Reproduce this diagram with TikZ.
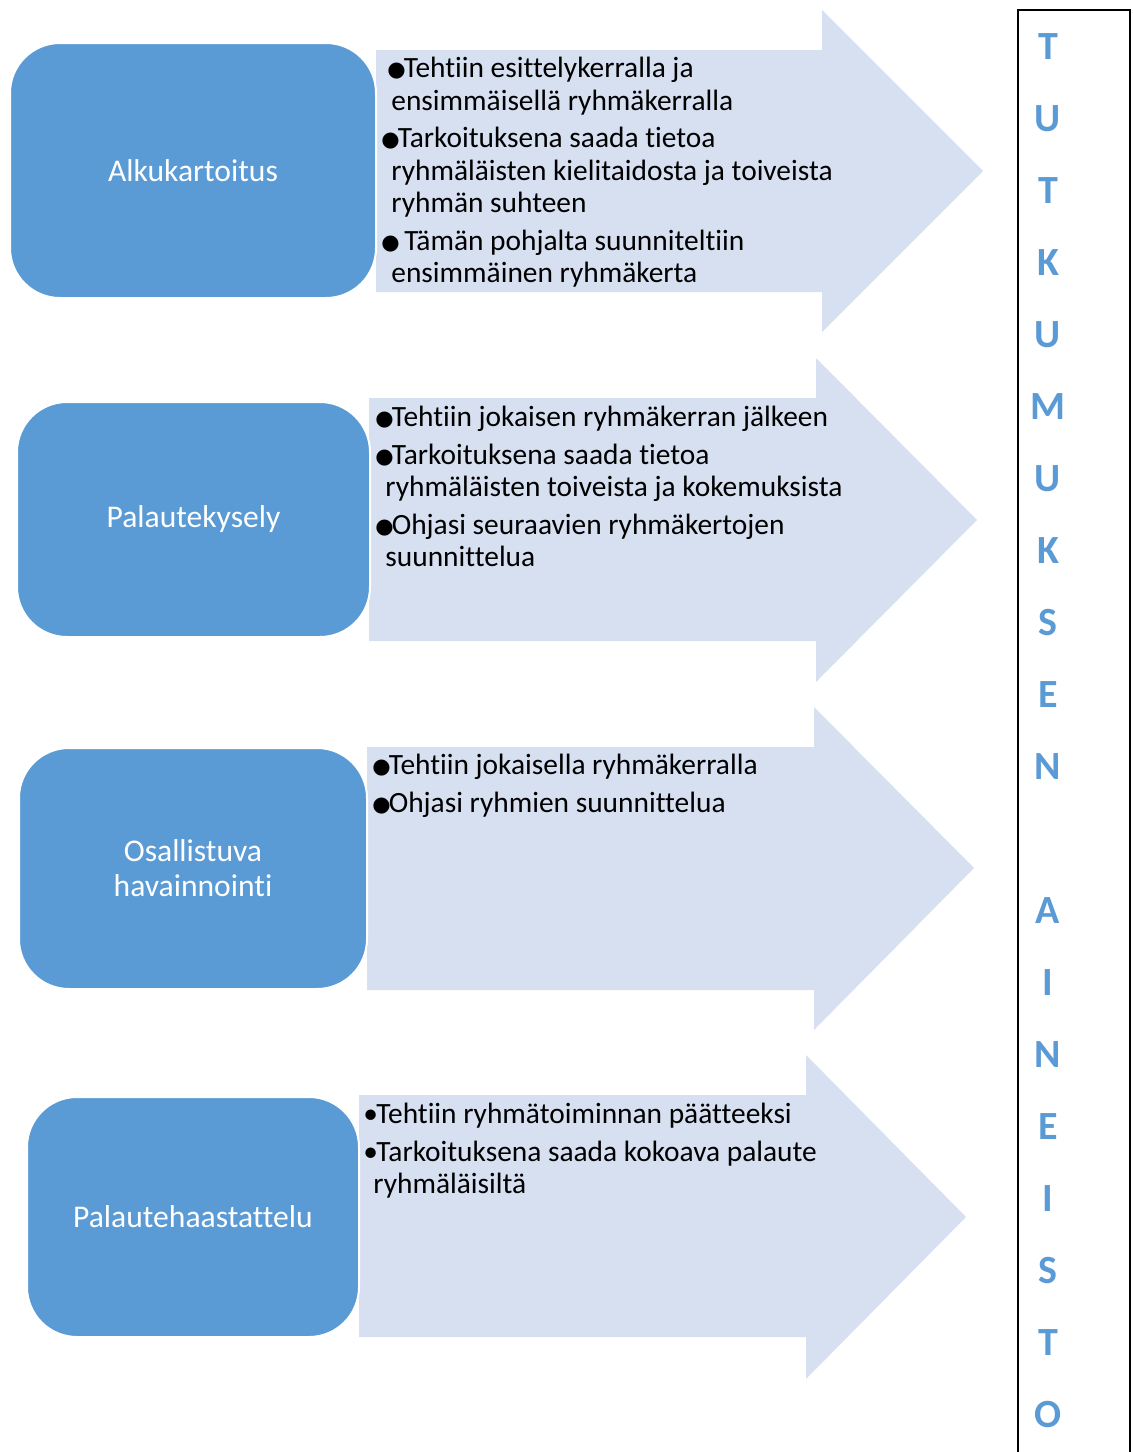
\documentclass[tikz,border=0pt]{standalone}
\usepackage{fontspec}
\setmainfont{Carlito}[Ligatures=NoCommon]
\newfontfamily\symfont{DejaVu Sans}
\usetikzlibrary{positioning}

\definecolor{boxblue}{HTML}{5B9BD5}
\definecolor{arrowblue}{HTML}{D6E0F1}

\newcommand{\bigbul}{\makebox[8.2pt][l]{\raisebox{0.5pt}{\symfont\fontsize{10.5pt}{11pt}\selectfont ●}}}
\newcommand{\smallbul}{\makebox[6.5pt][l]{•}}
\newcommand{\itemfont}{\fontsize{14.7pt}{16.25pt}\selectfont}
\newcommand{\labelfont}{\fontsize{15.8pt}{17.5pt}\selectfont}

\begin{document}
\begin{tikzpicture}[x=0.5pt,y=-0.5pt,
  stepbox/.style={draw=white, line width=1pt, fill=boxblue, rounded corners=25pt,
    text=white, font=\labelfont, align=center, inner sep=0pt},
  arrowshape/.style={fill=arrowblue},
  itemtext/.style={anchor=north west, inner sep=0pt, align=left, font=\itemfont}]

  \useasboundingbox (0,0) rectangle (1133,1452);

  % big arrows behind the boxes
  \fill[arrowshape] (376,50) -- (822,50) -- (822,10) -- (983,171)
    -- (822,332) -- (822,292) -- (376,292) -- cycle;
  \fill[arrowshape] (369,398) -- (816,398) -- (816,358) -- (977,520)
    -- (816,682) -- (816,641) -- (369,641) -- cycle;
  \fill[arrowshape] (367,747) -- (814,747) -- (814,707) -- (974,868)
    -- (814,1030) -- (814,990) -- (367,990) -- cycle;
  \fill[arrowshape] (359,1095) -- (806,1095) -- (806,1055) -- (966,1217)
    -- (806,1379) -- (806,1337) -- (359,1337) -- cycle;

  % method boxes
  \node[stepbox, minimum width=183pt, minimum height=127.5pt] (alku) at (193,170.5) {Alkukartoitus};
  \node[stepbox, minimum width=176.5pt, minimum height=117.5pt] (palaute) at (193.5,519.5) {Palautekysely};
  \node[stepbox, minimum width=174pt, minimum height=120.5pt] (havainnointi) at (193,868.5) {Osallistuva\\havainnointi};
  \node[stepbox, minimum width=166pt, minimum height=120pt] (haastattelu) at (193,1217) {Palautehaastattelu};

  % texts in the arrows
  \node[itemtext] (alkutext) at (381,57) {%
    \hspace*{3pt}\bigbul Tehtiin esittelykerralla ja\\
    \hspace*{5pt}ensimmäisellä ryhmäkerralla\\[2.5pt]
    \bigbul Tarkoituksena saada tietoa\\
    \hspace*{5pt}ryhmäläisten kielitaidosta ja toiveista\\
    \hspace*{5pt}ryhmän suhteen\\[2.5pt]
    \bigbul\ Tämän pohjalta suunniteltiin\\
    \hspace*{5pt}ensimmäinen ryhmäkerta};
  \node[itemtext] (palautetext) at (375,406) {%
    \bigbul Tehtiin jokaisen ryhmäkerran jälkeen\\[2.5pt]
    \bigbul Tarkoituksena saada tietoa\\
    \hspace*{5pt}ryhmäläisten toiveista ja kokemuksista\\[2.5pt]
    \bigbul Ohjasi seuraavien ryhmäkertojen\\
    \hspace*{5pt}suunnittelua};
  \node[itemtext] (havainnointitext) at (372,754) {%
    \bigbul Tehtiin jokaisella ryhmäkerralla\\[2.5pt]
    \bigbul Ohjasi ryhmien suunnittelua};
  \node[itemtext] (haastattelutext) at (363,1103) {%
    \smallbul Tehtiin ryhmätoiminnan päätteeksi\\[2.5pt]
    \smallbul Tarkoituksena saada kokoava palaute\\
    \hspace*{5pt}ryhmäläisiltä};

  % research material column
  \draw[line width=0.8pt] (1018,1452) -- (1018,10) -- (1130,10) -- (1130,1452);
  \node[anchor=north, inner sep=0pt, align=center, text=boxblue,
    font=\fontsize{20pt}{36pt}\selectfont\bfseries] (aineisto) at (1048,33)
    {T\\U\\T\\K\\U\\M\\U\\K\\S\\E\\N\\\mbox{}\\A\\I\\N\\E\\I\\S\\T\\O};
\end{tikzpicture}
\end{document}
